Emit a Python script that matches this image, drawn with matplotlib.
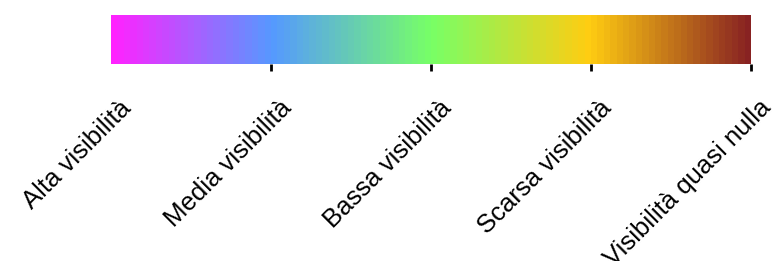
import numpy as np
import matplotlib
matplotlib.use("Agg")
import matplotlib.pyplot as plt
import matplotlib.transforms as mtransforms
from matplotlib.colors import LinearSegmentedColormap, Normalize
from matplotlib.cm import ScalarMappable

plt.rcParams['font.family'] = ['Liberation Sans', 'DejaVu Sans']

# livelli della scala e colori di riferimento
levels = [0, 1, 2, 3, 4]
labels = ['Alta visibilità', 'Media visibilità', 'Bassa visibilità',
          'Scarsa visibilità', 'Visibilità quasi nulla']
colors = ['#ff22ff', '#5599ff', '#77ff66', '#ffcc11', '#882222']

cmap = LinearSegmentedColormap.from_list('vis', colors, N=100)
norm = Normalize(vmin=levels[0], vmax=levels[-1])

fig = plt.figure(figsize=(7.77, 2.61), dpi=100)
cax = fig.add_axes([0.1429, 0.7548, 0.8237, 0.1877])
cb = fig.colorbar(ScalarMappable(norm=norm, cmap=cmap), cax=cax,
                  orientation='horizontal', ticks=levels)
cb.outline.set_visible(False)
cb.ax.set_xticklabels(labels, rotation=45, ha='right', va='top',
                      rotation_mode='anchor', fontsize=18.5)
cb.ax.tick_params(axis='x', length=5, width=2, pad=10)
# il primo tick non si vede nell'originale
cb.ax.xaxis.get_major_ticks()[0].tick1line.set_visible(False)

# spostamento delle etichette (destra e in basso)
offset = mtransforms.ScaledTranslation(0.08, -0.11, fig.dpi_scale_trans)
for lab in cb.ax.get_xticklabels():
    lab.set_transform(lab.get_transform() + offset)

fig.savefig('out.png', dpi=100)
